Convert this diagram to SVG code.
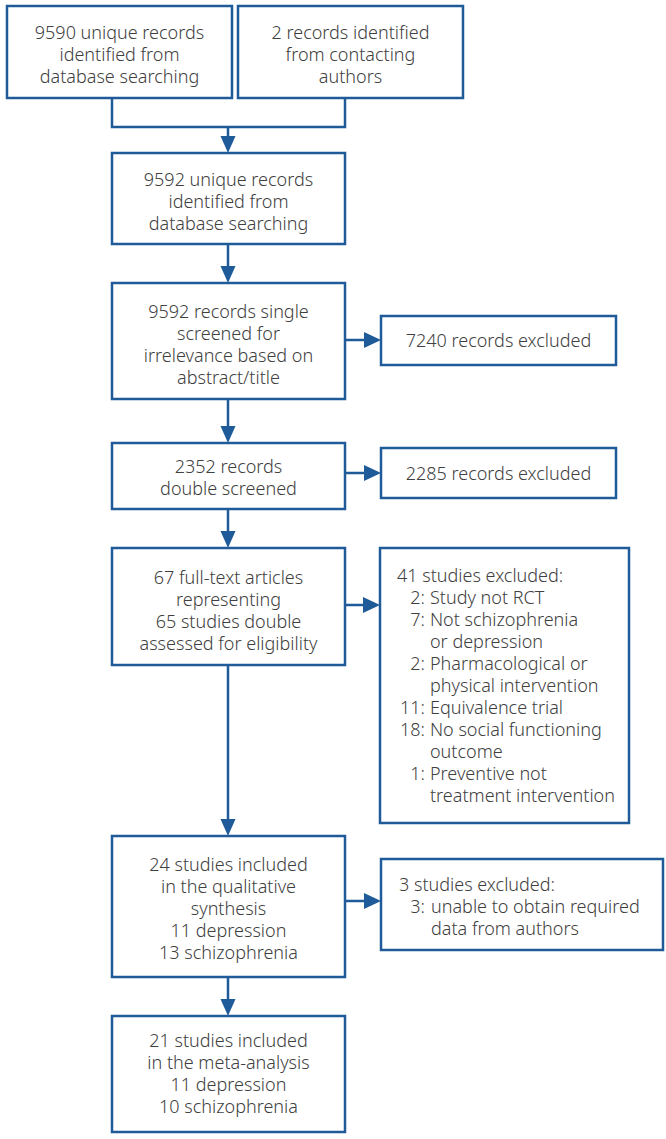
<svg xmlns="http://www.w3.org/2000/svg" width="666" height="1139" viewBox="0 0 666 1139">
<style>
.box{fill:#fff;stroke:#1f5b98;stroke-width:2.5}
.ln{fill:none;stroke:#1f5b98;stroke-width:2.5}
.hd{fill:#1f5b98}
text{font-family:"Noto Sans","Liberation Sans",sans-serif;font-size:18px;font-weight:300;fill:#404040}
.c{text-anchor:middle}
.e{text-anchor:end}
</style>
<rect width="666" height="1139" fill="#fff"/>
<g id="connectors">
<path class="ln" d="M112,98 V127 H345 V98"/>
<path class="ln" d="M228,127 V140"/><polygon class="hd" points="220.5,136 235.5,136 228,153"/>
<path class="ln" d="M228,244 V270"/><polygon class="hd" points="220.5,266 235.5,266 228,283"/>
<path class="ln" d="M345,340 H366"/><polygon class="hd" points="364,332 364,348 381,340"/>
<path class="ln" d="M228,399 V430"/><polygon class="hd" points="220.5,426 235.5,426 228,443"/>
<path class="ln" d="M345,473 H366"/><polygon class="hd" points="364,465 364,481 381,473"/>
<path class="ln" d="M228,509 V535"/><polygon class="hd" points="220.5,531 235.5,531 228,548"/>
<path class="ln" d="M345,605 H366"/><polygon class="hd" points="363,597 363,613 380,605"/>
<path class="ln" d="M228,665 V823"/><polygon class="hd" points="220.5,819 235.5,819 228,836"/>
<path class="ln" d="M345,901 H366"/><polygon class="hd" points="364,893 364,909 381,901"/>
<path class="ln" d="M228,977 V1003"/><polygon class="hd" points="220.5,999 235.5,999 228,1016"/>
</g>
<g id="n1">
<rect class="box" x="7" y="6" width="225" height="92"/>
<text class="c" x="119.5" y="38.5">9590 unique records</text>
<text class="c" x="119.5" y="60.5">identified from</text>
<text class="c" x="119.5" y="82.5">database searching</text>
</g>
<g id="n2">
<rect class="box" x="238" y="6" width="225" height="92"/>
<text class="c" x="350.5" y="38.5">2 records identified</text>
<text class="c" x="350.5" y="60.5">from contacting</text>
<text class="c" x="350.5" y="82.5">authors</text>
</g>
<g id="n3">
<rect class="box" x="112" y="153" width="233" height="91"/>
<text class="c" x="228.5" y="185.5">9592 unique records</text>
<text class="c" x="228.5" y="207.5">identified from</text>
<text class="c" x="228.5" y="229.5">database searching</text>
</g>
<g id="n4">
<rect class="box" x="112" y="283" width="233" height="116"/>
<text class="c" x="228.5" y="318">9592 records single</text>
<text class="c" x="228.5" y="340">screened for</text>
<text class="c" x="228.5" y="362">irrelevance based on</text>
<text class="c" x="228.5" y="384">abstract/title</text>
</g>
<g id="x1">
<rect class="box" x="381" y="316" width="235" height="49"/>
<text class="c" x="498.5" y="346.5">7240 records excluded</text>
</g>
<g id="n5">
<rect class="box" x="112" y="443" width="233" height="66"/>
<text class="c" x="228.5" y="473">2352 records</text>
<text class="c" x="228.5" y="495">double screened</text>
</g>
<g id="x2">
<rect class="box" x="381" y="448" width="235" height="50"/>
<text class="c" x="498.5" y="479.5">2285 records excluded</text>
</g>
<g id="n6">
<rect class="box" x="112" y="548" width="233" height="117"/>
<text class="c" x="228.5" y="583.5">67 full-text articles</text>
<text class="c" x="228.5" y="605.5">representing</text>
<text class="c" x="228.5" y="627.5">65 studies double</text>
<text class="c" x="228.5" y="649.5">assessed for eligibility</text>
</g>
<g id="x3">
<rect class="box" x="380" y="548" width="249" height="275"/>
<text x="397" y="581.5">41 studies excluded:</text>
<text class="e" x="425" y="603.5">2:</text><text x="430" y="603.5">Study not RCT</text>
<text class="e" x="425" y="625.5">7:</text><text x="430" y="625.5">Not schizophrenia</text>
<text x="430" y="647.5">or depression</text>
<text class="e" x="425" y="669.5">2:</text><text x="430" y="669.5">Pharmacological or</text>
<text x="430" y="691.5">physical intervention</text>
<text class="e" x="425" y="713.5">11:</text><text x="430" y="713.5">Equivalence trial</text>
<text class="e" x="425" y="735.5">18:</text><text x="430" y="735.5">No social functioning</text>
<text x="430" y="757.5">outcome</text>
<text class="e" x="425" y="779.5">1:</text><text x="430" y="779.5">Preventive not</text>
<text x="430" y="801.5">treatment intervention</text>
</g>
<g id="n7">
<rect class="box" x="112" y="836" width="233" height="141"/>
<text class="c" x="228.5" y="870.5">24 studies included</text>
<text class="c" x="228.5" y="892.5">in the qualitative</text>
<text class="c" x="228.5" y="914.5">synthesis</text>
<text class="c" x="228.5" y="936.5">11 depression</text>
<text class="c" x="228.5" y="958.5">13 schizophrenia</text>
</g>
<g id="x4">
<rect class="box" x="381" y="859" width="282" height="91"/>
<text x="399" y="890.5">3 studies excluded:</text>
<text class="e" x="425" y="912.5">3:</text><text x="431" y="912.5">unable to obtain required</text>
<text x="431" y="934.5">data from authors</text>
</g>
<g id="n8">
<rect class="box" x="112" y="1016" width="233" height="116"/>
<text class="c" x="228.5" y="1047">21 studies included</text>
<text class="c" x="228.5" y="1069">in the meta-analysis</text>
<text class="c" x="228.5" y="1091">11 depression</text>
<text class="c" x="228.5" y="1113">10 schizophrenia</text>
</g>
</svg>
